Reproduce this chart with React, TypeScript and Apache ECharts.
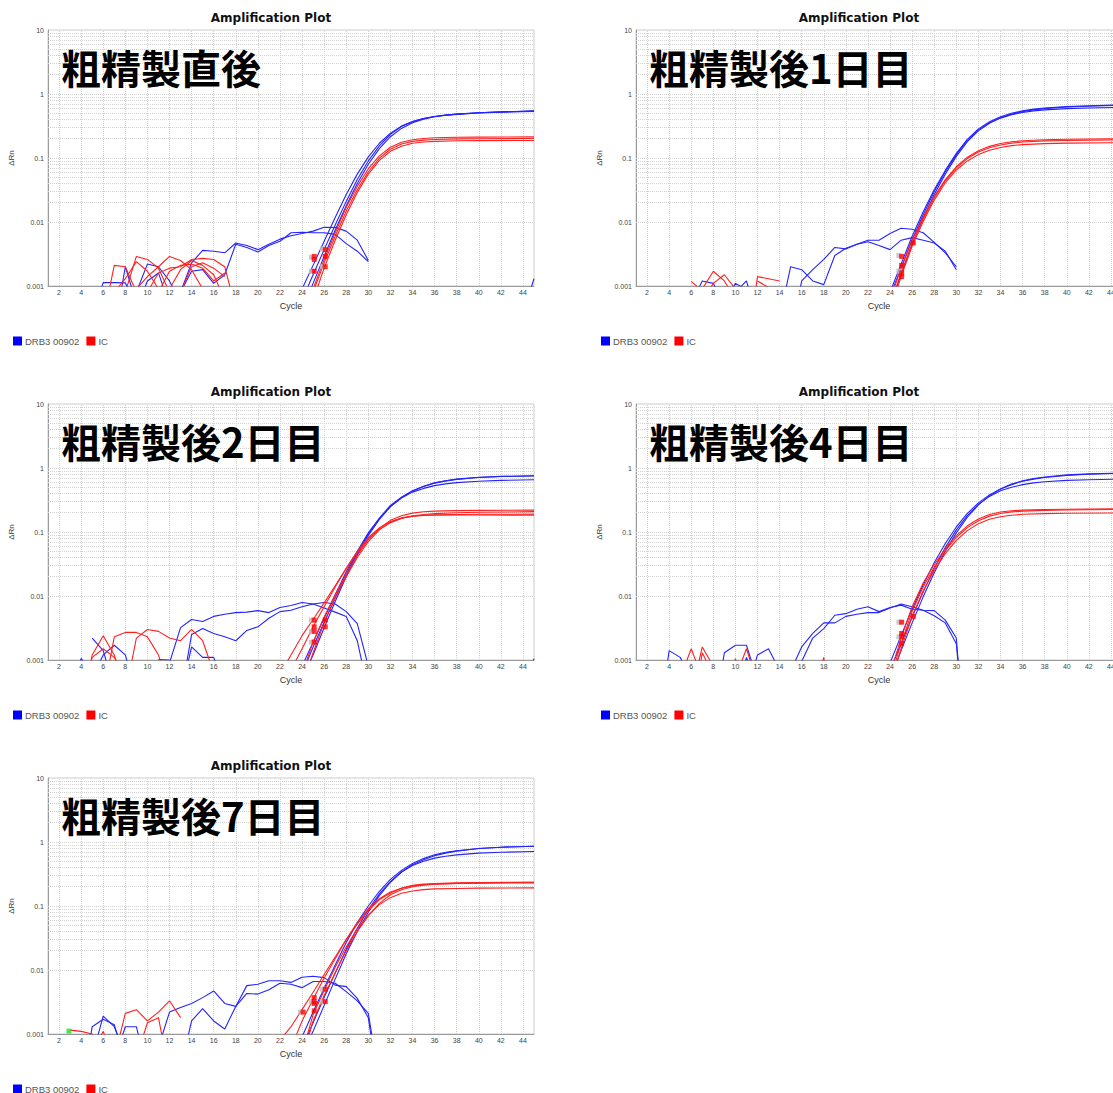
import React, { useEffect, useRef } from "react";
import * as echarts from "echarts";

type Pt = [number, number];

// ---------- shared tick labels ----------
const X_TICKS = [2, 4, 6, 8, 10, 12, 14, 16, 18, 20, 22, 24, 26, 28, 30, 32, 34, 36, 38, 40, 42, 44];
const Y_TICK_LABELS = ["0.001", "0.01", "0.1", "1", "10"];
const DECADES = [0.001, 0.01, 0.1, 1];
const MINOR_MULTS = [1, 2, 3, 4, 5, 6, 7, 8, 9];
const LEGEND_NAMES = ["DRB3 00902", "IC"];
const TITLE = "Amplification Plot";

// ---------- Panel 1: 粗精製直後 ----------
const P1_LABEL = "粗精製直後";
const P1_BLUE_AMP: Pt[][] = [
  [[23, 0.0004], [24, 0.0009], [25, 0.0021], [26, 0.005], [27, 0.0118], [28, 0.027], [29, 0.056], [30, 0.104], [31, 0.17], [32, 0.245], [33, 0.315], [34, 0.372], [35, 0.415], [36, 0.445], [37, 0.468], [38, 0.485], [40, 0.508], [42, 0.525], [45, 0.545]],
  [[24, 0.0006], [25, 0.0015], [26, 0.0037], [27, 0.009], [28, 0.021], [29, 0.046], [30, 0.09], [31, 0.155], [32, 0.235], [33, 0.31], [34, 0.37], [35, 0.415], [36, 0.445], [37, 0.468], [38, 0.485], [40, 0.51], [42, 0.525], [45, 0.54]],
  [[24, 0.0004], [25, 0.0011], [26, 0.0029], [27, 0.0075], [28, 0.018], [29, 0.04], [30, 0.08], [31, 0.14], [32, 0.215], [33, 0.29], [34, 0.355], [35, 0.405], [36, 0.44], [37, 0.465], [38, 0.48], [40, 0.505], [42, 0.52], [45, 0.535]],
];
const P1_RED_AMP: Pt[][] = [
  [[24, 0.0003], [25, 0.0009], [26, 0.0026], [27, 0.0068], [28, 0.017], [29, 0.036], [30, 0.068], [31, 0.108], [32, 0.147], [33, 0.176], [34, 0.193], [35, 0.202], [36, 0.207], [38, 0.211], [40, 0.212], [45, 0.214]],
  [[24, 0.0003], [25, 0.0008], [26, 0.0023], [27, 0.006], [28, 0.0148], [29, 0.032], [30, 0.061], [31, 0.099], [32, 0.137], [33, 0.165], [34, 0.182], [35, 0.19], [36, 0.195], [38, 0.199], [40, 0.2], [45, 0.202]],
  [[25, 0.0006], [26, 0.0019], [27, 0.0052], [28, 0.013], [29, 0.029], [30, 0.056], [31, 0.092], [32, 0.127], [33, 0.153], [34, 0.17], [35, 0.178], [36, 0.182], [38, 0.186], [40, 0.187], [45, 0.188]],
];
const P1_BLUE_NOISE: Pt[][] = [
  [[5.7, 0.0008], [6, 0.00113], [7, 0.00113], [8, 0.00112], [8.4, 0.0008]],
  [[7.6, 0.0008], [8, 0.002], [8.7, 0.0008]],
  [[9, 0.0008], [10, 0.0022], [11, 0.002], [12, 0.0012], [12.5, 0.0008]],
  [[9.6, 0.0008], [10, 0.0012], [11, 0.0016], [11.6, 0.0008]],
  [[13, 0.0008], [14, 0.0023], [15, 0.0036], [16, 0.0035], [17, 0.0033], [18, 0.0047], [19, 0.0043], [20, 0.0037], [21, 0.0045], [22, 0.0054], [23, 0.0061], [24, 0.0066], [25, 0.0072], [26, 0.0083], [27, 0.0082], [28, 0.0072], [29, 0.0052], [30, 0.0025]],
  [[13, 0.0008], [14, 0.0017], [15, 0.0018], [16, 0.0011], [17, 0.0015], [18, 0.0045], [19, 0.004], [20, 0.0034], [21, 0.0043], [22, 0.005], [23, 0.0068], [24, 0.0069], [25, 0.0068], [26, 0.0068], [27, 0.0064], [28, 0.0046], [29, 0.0035], [30, 0.0024]],
  [[44.6, 0.0008], [45, 0.0013]],
];
const P1_RED_NOISE: Pt[][] = [
  [[6.5, 0.0008], [7, 0.0021], [8, 0.002], [9, 0.0008]],
  [[7, 0.0008], [8, 0.0013], [9, 0.0024], [10, 0.0017], [11, 0.0009]],
  [[8, 0.0008], [9, 0.0029], [10, 0.0026], [11, 0.0019], [12, 0.0008]],
  [[9, 0.0009], [10, 0.0014], [11, 0.002], [12, 0.0029], [13, 0.0025], [14, 0.0018], [15, 0.0009]],
  [[10, 0.0008], [11, 0.0016], [12, 0.0019], [13, 0.002], [14, 0.0026], [15, 0.0027], [16, 0.0026], [17, 0.002], [17.6, 0.0008]],
  [[11, 0.0008], [12, 0.0017], [13, 0.0021], [14, 0.0022], [15, 0.0019], [16, 0.0012], [17, 0.0016]],
  [[12, 0.0009], [13, 0.0018], [14, 0.0025], [15, 0.0021], [16, 0.0015], [16.7, 0.0008]],
  [[13, 0.0008], [14, 0.002], [15, 0.0023], [16, 0.0019], [17, 0.0014]],
];
const P1_MARKS: Pt[] = [[25.1, 0.0029], [25.1, 0.0026], [25.1, 0.0017], [26.1, 0.0037], [26.1, 0.0029], [26.1, 0.002]];
const P1_GRAY: Pt[] = [[24.85, 0.0028], [24.85, 0.0017], [25.85, 0.0038], [25.85, 0.002]];

// ---------- Panel 2: 粗精製後1日目 ----------
const P2_LABEL = "粗精製後1日目";
const P2_BLUE_AMP: Pt[][] = [
  [[23, 0.0003], [24, 0.0008], [25, 0.0022], [26, 0.006], [27, 0.0145], [28, 0.032], [29, 0.064], [30, 0.118], [31, 0.195], [32, 0.285], [33, 0.37], [34, 0.44], [35, 0.5], [36, 0.545], [37, 0.58], [38, 0.605], [40, 0.635], [42, 0.655], [45, 0.675]],
  [[24, 0.0007], [25, 0.0019], [26, 0.0053], [27, 0.013], [28, 0.03], [29, 0.061], [30, 0.113], [31, 0.19], [32, 0.275], [33, 0.355], [34, 0.42], [35, 0.475], [36, 0.515], [37, 0.545], [38, 0.565], [40, 0.59], [42, 0.605], [45, 0.62]],
  [[24, 0.0005], [25, 0.0015], [26, 0.0045], [27, 0.0115], [28, 0.027], [29, 0.056], [30, 0.106], [31, 0.18], [32, 0.265], [33, 0.35], [34, 0.425], [35, 0.485], [36, 0.53], [37, 0.565], [38, 0.59], [40, 0.625], [42, 0.645], [45, 0.665]],
];
const P2_RED_AMP: Pt[][] = [
  [[24, 0.0006], [25, 0.0019], [26, 0.0052], [27, 0.012], [28, 0.025], [29, 0.046], [30, 0.073], [31, 0.103], [32, 0.13], [33, 0.152], [34, 0.168], [35, 0.179], [36, 0.186], [38, 0.193], [40, 0.196], [45, 0.2]],
  [[24, 0.0005], [25, 0.0016], [26, 0.0046], [27, 0.011], [28, 0.024], [29, 0.044], [30, 0.07], [31, 0.098], [32, 0.124], [33, 0.145], [34, 0.16], [35, 0.171], [36, 0.178], [38, 0.185], [40, 0.188], [45, 0.192]],
  [[24, 0.0004], [25, 0.0014], [26, 0.0042], [27, 0.0102], [28, 0.022], [29, 0.041], [30, 0.065], [31, 0.09], [32, 0.113], [33, 0.132], [34, 0.146], [35, 0.156], [36, 0.162], [38, 0.168], [40, 0.171], [45, 0.174]],
];
const P2_BLUE_NOISE: Pt[][] = [
  [[6.5, 0.0008], [7, 0.0012], [8, 0.0011], [8.4, 0.0008]],
  [[9.6, 0.0008], [10, 0.0011], [10.5, 0.00098], [11, 0.0012], [11.3, 0.0008]],
  [[14.5, 0.0008], [15, 0.002], [16, 0.0018], [17, 0.0012], [18, 0.00105], [19, 0.003], [20, 0.0039], [21, 0.0045], [22, 0.0049], [23, 0.0043], [24, 0.0037], [25, 0.0052], [26, 0.0057], [27, 0.0052], [28, 0.0047], [29, 0.0035], [30, 0.0018]],
  [[15.8, 0.0008], [16, 0.0012], [17, 0.0018], [18, 0.0026], [19, 0.004], [20, 0.0038], [21, 0.0045], [22, 0.0052], [23, 0.0052], [24, 0.0066], [25, 0.008], [26, 0.0077], [27, 0.0068], [28, 0.0048], [29, 0.0033], [30, 0.002]],
];
const P2_RED_NOISE: Pt[][] = [
  [[6, 0.00118], [6.8, 0.0009], [7, 0.0008]],
  [[7, 0.0009], [8, 0.0017], [9, 0.0012], [9.6, 0.0008]],
  [[7.5, 0.0008], [8, 0.0011], [9, 0.0015], [10, 0.0009]],
  [[11.8, 0.0008], [12, 0.0014], [13, 0.0013], [14, 0.0012]],
  [[12, 0.0012], [13, 0.00095]],
];
const P2_MARKS: Pt[] = [[25.05, 0.0029], [25.05, 0.0021], [25.05, 0.0016], [25.05, 0.0014], [26.1, 0.0047]];
const P2_GRAY: Pt[] = [[24.8, 0.003], [24.8, 0.0017]];

// ---------- Panel 3: 粗精製後2日目 ----------
const P3_LABEL = "粗精製後2日目";
const P3_BLUE_AMP: Pt[][] = [
  [[24, 0.0008], [25, 0.0019], [26, 0.0045], [27, 0.0105], [28, 0.024], [29, 0.05], [30, 0.097], [31, 0.165], [32, 0.26], [33, 0.35], [34, 0.44], [35, 0.52], [36, 0.585], [37, 0.63], [38, 0.665], [40, 0.71], [42, 0.735], [45, 0.75]],
  [[24, 0.0006], [25, 0.0016], [26, 0.0039], [27, 0.0094], [28, 0.022], [29, 0.047], [30, 0.092], [31, 0.16], [32, 0.25], [33, 0.34], [34, 0.42], [35, 0.48], [36, 0.53], [37, 0.565], [38, 0.59], [40, 0.62], [42, 0.64], [45, 0.655]],
  [[24, 0.0005], [25, 0.0012], [26, 0.0032], [27, 0.0082], [28, 0.02], [29, 0.044], [30, 0.088], [31, 0.157], [32, 0.25], [33, 0.345], [34, 0.435], [35, 0.515], [36, 0.58], [37, 0.63], [38, 0.67], [40, 0.715], [42, 0.74], [45, 0.755]],
];
const P3_RED_AMP: Pt[][] = [
  [[22, 0.0006], [23, 0.0012], [24, 0.0024], [25, 0.0043], [26, 0.0078], [27, 0.0145], [28, 0.027], [29, 0.048], [30, 0.078], [31, 0.11], [32, 0.14], [33, 0.163], [34, 0.178], [35, 0.188], [36, 0.194], [38, 0.2], [40, 0.203], [45, 0.208]],
  [[23, 0.0007], [24, 0.0015], [25, 0.0033], [26, 0.0068], [27, 0.0138], [28, 0.027], [29, 0.05], [30, 0.082], [31, 0.116], [32, 0.146], [33, 0.166], [34, 0.177], [35, 0.183], [36, 0.186], [38, 0.188], [40, 0.189], [45, 0.19]],
  [[24, 0.0006], [25, 0.0019], [26, 0.0047], [27, 0.0105], [28, 0.022], [29, 0.043], [30, 0.076], [31, 0.115], [32, 0.152], [33, 0.18], [34, 0.197], [35, 0.207], [36, 0.212], [38, 0.216], [40, 0.218], [45, 0.22]],
  [[24, 0.0004], [25, 0.0013], [26, 0.0038], [27, 0.0093], [28, 0.02], [29, 0.04], [30, 0.071], [31, 0.108], [32, 0.142], [33, 0.164], [34, 0.176], [35, 0.181], [36, 0.183], [38, 0.184], [40, 0.184], [45, 0.183]],
];
const P3_BLUE_NOISE: Pt[][] = [
  [[3.8, 0.0008], [4, 0.00106], [4.5, 0.0008]],
  [[5, 0.0022], [6, 0.0014], [6.4, 0.0008]],
  [[5.5, 0.0008], [6, 0.0012], [7, 0.0017], [8, 0.0012], [8.3, 0.0008]],
  [[11, 0.00102], [12, 0.001]],
  [[12, 0.0009], [13, 0.0032], [14, 0.0043], [15, 0.004], [16, 0.0048], [17, 0.0052], [18, 0.0055], [19, 0.0056], [20, 0.0059], [21, 0.0055], [22, 0.0066], [23, 0.0071], [24, 0.0079], [25, 0.0075], [26, 0.0079], [27, 0.0075], [28, 0.0057], [29, 0.0037], [30, 0.0008]],
  [[13.5, 0.0008], [14, 0.0025], [15, 0.0031], [16, 0.0026], [17, 0.0023], [18, 0.002], [19, 0.0029], [20, 0.0033], [21, 0.0045], [22, 0.0057], [23, 0.006], [24, 0.0068], [25, 0.0075], [26, 0.0065], [27, 0.0056], [28, 0.0048], [29, 0.002], [29.5, 0.0008]],
  [[13.6, 0.0008], [14, 0.0016], [15, 0.0011], [16, 0.0011], [16.3, 0.0008]],
  [[44.8, 0.0008], [45, 0.00105]],
];
const P3_RED_NOISE: Pt[][] = [
  [[4.8, 0.0008], [5, 0.0012], [6, 0.0024], [7, 0.0012], [7.3, 0.0008]],
  [[4.8, 0.0008], [5, 0.0011], [6, 0.0015], [7, 0.0011], [7.5, 0.0008]],
  [[6.5, 0.0008], [7, 0.0023], [8, 0.0027], [9, 0.0027], [10, 0.0023], [11, 0.0012], [11.3, 0.0008]],
  [[8.5, 0.0008], [9, 0.0022], [10, 0.003], [11, 0.0028], [12, 0.0022], [13, 0.002], [14, 0.003], [15, 0.002], [15.8, 0.0008]],
];
const P3_MARKS: Pt[] = [[25.1, 0.0042], [25.1, 0.0033], [25.1, 0.0028], [25.1, 0.0019], [26.1, 0.0042], [26.1, 0.0033]];
const P3_GRAY: Pt[] = [[24.85, 0.0042], [24.85, 0.0028], [24.85, 0.0019]];

// ---------- Panel 4: 粗精製後4日目 ----------
const P4_LABEL = "粗精製後4日目";
const P4_BLUE_AMP: Pt[][] = [
  [[23, 0.0003], [24, 0.0009], [25, 0.0024], [26, 0.0062], [27, 0.015], [28, 0.033], [29, 0.066], [30, 0.12], [31, 0.195], [32, 0.285], [33, 0.38], [34, 0.47], [35, 0.55], [36, 0.62], [37, 0.67], [38, 0.71], [40, 0.765], [42, 0.8], [45, 0.83]],
  [[24, 0.0007], [25, 0.0018], [26, 0.0047], [27, 0.0115], [28, 0.027], [29, 0.057], [30, 0.108], [31, 0.18], [32, 0.27], [33, 0.36], [34, 0.44], [35, 0.5], [36, 0.55], [37, 0.585], [38, 0.61], [40, 0.64], [42, 0.655], [45, 0.67]],
  [[24, 0.0005], [25, 0.0014], [26, 0.0038], [27, 0.0097], [28, 0.023], [29, 0.05], [30, 0.097], [31, 0.17], [32, 0.265], [33, 0.37], [34, 0.47], [35, 0.56], [36, 0.63], [37, 0.685], [38, 0.725], [40, 0.78], [42, 0.81], [45, 0.835]],
];
const P4_RED_AMP: Pt[][] = [
  [[24, 0.0006], [25, 0.0022], [26, 0.0068], [27, 0.016], [28, 0.031], [29, 0.055], [30, 0.088], [31, 0.125], [32, 0.16], [33, 0.188], [34, 0.205], [35, 0.215], [36, 0.22], [38, 0.225], [40, 0.227], [45, 0.23]],
  [[24, 0.0005], [25, 0.0018], [26, 0.0057], [27, 0.0138], [28, 0.028], [29, 0.051], [30, 0.082], [31, 0.117], [32, 0.15], [33, 0.177], [34, 0.195], [35, 0.206], [36, 0.212], [38, 0.218], [40, 0.221], [45, 0.225]],
  [[24, 0.0004], [25, 0.0015], [26, 0.0048], [27, 0.012], [28, 0.025], [29, 0.046], [30, 0.074], [31, 0.105], [32, 0.135], [33, 0.158], [34, 0.173], [35, 0.183], [36, 0.189], [38, 0.194], [40, 0.196], [45, 0.198]],
];
const P4_BLUE_NOISE: Pt[][] = [
  [[3.8, 0.0008], [4, 0.0014], [5, 0.0011], [5.4, 0.0008]],
  [[8.8, 0.0008], [9, 0.0013], [10, 0.0017], [11, 0.0017], [11.6, 0.0008]],
  [[10.8, 0.0008], [11, 0.0011], [11.3, 0.0008]],
  [[11.7, 0.0008], [12, 0.0012], [13, 0.0015], [13.8, 0.0008]],
  [[15.2, 0.0008], [16, 0.0016], [17, 0.0026], [18, 0.0038], [19, 0.0038], [20, 0.0048], [21, 0.0052], [22, 0.0055], [23, 0.0055], [24, 0.0065], [25, 0.0075], [26, 0.0068], [27, 0.006], [28, 0.0049], [29, 0.0038], [30, 0.0018], [30.2, 0.0008]],
  [[15.8, 0.0008], [17, 0.0022], [18, 0.0031], [19, 0.005], [20, 0.0053], [21, 0.0062], [22, 0.0068], [23, 0.0057], [24, 0.0066], [25, 0.0072], [26, 0.0062], [27, 0.006], [28, 0.0059], [29, 0.0042], [30, 0.0022], [30.2, 0.0008]],
];
const P4_RED_NOISE: Pt[][] = [
  [[5.4, 0.0008], [6, 0.0015], [6.6, 0.0008]],
  [[6.6, 0.0008], [7, 0.0016], [8, 0.0008]],
  [[6.8, 0.0008], [7, 0.0013], [7.6, 0.0008]],
  [[9.9, 0.0008], [10, 0.00105], [10.2, 0.0008]],
  [[10.4, 0.0008], [11, 0.0015], [11.5, 0.0008]],
  [[17.8, 0.0008], [18, 0.0011], [18.1, 0.0008]],
];
const P4_MARKS: Pt[] = [[25.05, 0.0039], [25.05, 0.0026], [25.05, 0.0023], [25.05, 0.0018], [26.1, 0.0048]];
const P4_GRAY: Pt[] = [[24.8, 0.0039], [24.8, 0.0023]];

// ---------- Panel 5: 粗精製後7日目 ----------
const P5_LABEL = "粗精製後7日目";
const P5_BLUE_AMP: Pt[][] = [
  [[24, 0.0009], [25, 0.0022], [26, 0.0052], [27, 0.012], [28, 0.027], [29, 0.055], [30, 0.1], [31, 0.17], [32, 0.26], [33, 0.36], [34, 0.46], [35, 0.55], [36, 0.63], [37, 0.69], [38, 0.73], [40, 0.79], [42, 0.83], [45, 0.86]],
  [[24, 0.0006], [25, 0.0015], [26, 0.0037], [27, 0.009], [28, 0.021], [29, 0.045], [30, 0.088], [31, 0.155], [32, 0.24], [33, 0.34], [34, 0.43], [35, 0.5], [36, 0.56], [37, 0.6], [38, 0.63], [40, 0.67], [42, 0.69], [45, 0.71]],
  [[24, 0.0005], [25, 0.0011], [26, 0.0028], [27, 0.0072], [28, 0.018], [29, 0.04], [30, 0.08], [31, 0.145], [32, 0.235], [33, 0.34], [34, 0.44], [35, 0.53], [36, 0.61], [37, 0.67], [38, 0.72], [40, 0.79], [42, 0.83], [45, 0.86]],
];
const P5_RED_AMP: Pt[][] = [
  [[22, 0.0008], [23, 0.0013], [24, 0.0024], [25, 0.0045], [26, 0.0085], [27, 0.016], [28, 0.03], [29, 0.052], [30, 0.085], [31, 0.125], [32, 0.16], [33, 0.19], [34, 0.21], [35, 0.22], [36, 0.225], [38, 0.23], [40, 0.232], [45, 0.235]],
  [[23, 0.0006], [24, 0.0016], [25, 0.0035], [26, 0.0075], [27, 0.015], [28, 0.03], [29, 0.055], [30, 0.09], [31, 0.13], [32, 0.165], [33, 0.19], [34, 0.205], [35, 0.215], [36, 0.22], [38, 0.225], [40, 0.228], [45, 0.23]],
  [[24, 0.0005], [25, 0.002], [26, 0.0048], [27, 0.011], [28, 0.023], [29, 0.044], [30, 0.072], [31, 0.105], [32, 0.135], [33, 0.158], [34, 0.172], [35, 0.18], [36, 0.185], [38, 0.188], [40, 0.19], [45, 0.192]],
  [[24, 0.0004], [25, 0.0016], [26, 0.004], [27, 0.009], [28, 0.02], [29, 0.04], [30, 0.07], [31, 0.11], [32, 0.15], [33, 0.18], [34, 0.2], [35, 0.212], [36, 0.22], [38, 0.226], [40, 0.23], [45, 0.235]],
];
const P5_BLUE_NOISE: Pt[][] = [
  [[4.8, 0.0008], [5, 0.0013], [6, 0.0017], [7, 0.0014], [7.4, 0.0008]],
  [[5.4, 0.0008], [6, 0.0019], [7, 0.0013], [7.5, 0.0008]],
  [[7.6, 0.0008], [8, 0.0013], [9, 0.0013], [9.3, 0.0008]],
  [[11.2, 0.0008], [12, 0.0022], [13, 0.0026], [14, 0.003], [15, 0.0037], [16, 0.0047], [17, 0.003], [18, 0.0027], [19, 0.0057], [20, 0.006], [21, 0.0068], [22, 0.0068], [23, 0.0064], [24, 0.0077], [25, 0.008], [26, 0.0076], [27, 0.0058], [28, 0.0055], [29, 0.0036], [30, 0.0018], [30.3, 0.0008]],
  [[13.6, 0.0008], [14, 0.0016], [15, 0.0025], [16, 0.0016], [17, 0.0012], [18, 0.0027], [19, 0.0043], [20, 0.0042], [21, 0.0049], [22, 0.0062], [23, 0.006], [24, 0.0053], [25, 0.0066], [26, 0.0066], [27, 0.0062], [28, 0.0046], [29, 0.0033], [30, 0.0021], [30.4, 0.0008]],
];
const P5_RED_NOISE: Pt[][] = [
  [[3, 0.00115], [4, 0.0011], [5, 0.001], [5.3, 0.0008]],
  [[5.6, 0.0008], [6, 0.0011], [6.3, 0.0008]],
  [[7.4, 0.0008], [8, 0.0021], [9, 0.0024], [10, 0.0016], [11, 0.0022], [12, 0.0033], [13, 0.0018]],
  [[9.5, 0.0008], [10, 0.0015], [11, 0.0018], [11.4, 0.0008]],
];
const P5_MARKS: Pt[] = [[24.1, 0.0022], [25.1, 0.0037], [25.1, 0.0032], [25.1, 0.003], [25.1, 0.0023], [26.1, 0.005], [26.1, 0.0032]];
const P5_GRAY: Pt[] = [[23.85, 0.0022], [24.85, 0.0032], [25.85, 0.005], [25.85, 0.0032]];
const P5_GREEN: Pt[] = [[2.9, 0.00111]];

type PanelData = {
  label: string;
  blueAmp: Pt[][];
  redAmp: Pt[][];
  blueNoise: Pt[][];
  redNoise: Pt[][];
  marks: Pt[];
  gray: Pt[];
  green?: Pt[];
};

const PANELS: PanelData[] = [
  { label: P1_LABEL, blueAmp: P1_BLUE_AMP, redAmp: P1_RED_AMP, blueNoise: P1_BLUE_NOISE, redNoise: P1_RED_NOISE, marks: P1_MARKS, gray: P1_GRAY },
  { label: P2_LABEL, blueAmp: P2_BLUE_AMP, redAmp: P2_RED_AMP, blueNoise: P2_BLUE_NOISE, redNoise: P2_RED_NOISE, marks: P2_MARKS, gray: P2_GRAY },
  { label: P3_LABEL, blueAmp: P3_BLUE_AMP, redAmp: P3_RED_AMP, blueNoise: P3_BLUE_NOISE, redNoise: P3_RED_NOISE, marks: P3_MARKS, gray: P3_GRAY },
  { label: P4_LABEL, blueAmp: P4_BLUE_AMP, redAmp: P4_RED_AMP, blueNoise: P4_BLUE_NOISE, redNoise: P4_RED_NOISE, marks: P4_MARKS, gray: P4_GRAY },
  { label: P5_LABEL, blueAmp: P5_BLUE_AMP, redAmp: P5_RED_AMP, blueNoise: P5_BLUE_NOISE, redNoise: P5_RED_NOISE, marks: P5_MARKS, gray: P5_GRAY, green: P5_GREEN },
];

const PANEL_W = 588;
const PANEL_H = 374;
const PANEL_POS: [number, number][] = [[0, 0], [588, 0], [0, 374], [588, 374], [0, 748]];

const BLUE = "#2424ff";
const RED = "#ff2020";

function lineSeries(name: string, color: string, curves: Pt[][]) {
  return curves.map((c) => ({
    type: "line",
    name,
    data: c,
    symbol: "none",
    showSymbol: false,
    clip: true,
    silent: true,
    animation: false,
    lineStyle: { width: 1.1, color },
    itemStyle: { color },
    emphasis: { disabled: true },
    z: 3,
  }));
}

function buildOption(p: PanelData) {
  const yLines: number[] = [];
  DECADES.forEach((d) => MINOR_MULTS.forEach((m) => {
    const v = +(d * m).toPrecision(3);
    if (v > 0.001) yLines.push(v);
  }));
  const gridSeries = {
    type: "line",
    name: "grid",
    data: [[1, 0.001]],
    symbol: "none",
    silent: true,
    lineStyle: { opacity: 0 },
    z: 1,
    markLine: {
      silent: true,
      animation: false,
      symbol: ["none", "none"],
      label: { show: false },
      lineStyle: { type: "dotted", color: "#d2d2d2", width: 1 },
      emphasis: { disabled: true },
      z: 1,
      data: [
        ...X_TICKS.map((v) => ({ xAxis: v })),
        ...yLines.map((v) => ({ yAxis: v })),
      ],
    },
  };

  const scatter = (data: Pt[], color: string, z: number, name: string) => ({
    type: "scatter",
    name,
    data,
    symbol: "rect",
    symbolSize: 5,
    silent: true,
    itemStyle: { color },
    z,
  });

  const series: any[] = [
    gridSeries,
    ...lineSeries("DRB3 00902", BLUE, p.blueNoise),
    ...lineSeries("IC", RED, p.redNoise),
    ...lineSeries("DRB3 00902", BLUE, p.blueAmp),
    ...lineSeries("IC", RED, p.redAmp),
    scatter(p.gray, "#bdbdbd", 4, "ctGray"),
    scatter(p.marks, "#ff0000", 5, "ct"),
  ];
  if (p.green) series.push(scatter(p.green, "#22dd22", 5, "start"));

  return {
    animation: false,
    backgroundColor: "#ffffff",
    grid: {
      left: 48,
      top: 30,
      width: 486,
      height: 256,
      show: true,
      borderColor: "#cccccc",
      borderWidth: 1,
      outerBoundsMode: "none",
      containLabel: false,
    },
    xAxis: {
      type: "value",
      min: 1,
      max: 45,
      interval: 1,
      axisLine: { show: true, lineStyle: { color: "#9a9a9a" } },
      axisTick: { show: false },
      splitLine: { show: false },
      axisLabel: {
        fontSize: 7,
        color: "#444",
        margin: 3,
        fontFamily: "Liberation Sans",
        formatter: (v: number) => (X_TICKS.indexOf(v) >= 0 ? String(v) : ""),
      },
      name: "Cycle",
      nameLocation: "middle",
      nameGap: 15,
      nameTextStyle: { fontSize: 9, color: "#333", fontFamily: "Liberation Sans" },
    },
    yAxis: {
      type: "log",
      logBase: 10,
      min: 0.001,
      max: 10,
      axisLine: { show: true, lineStyle: { color: "#9a9a9a" } },
      axisTick: { show: false },
      splitLine: { show: false },
      axisLabel: {
        fontSize: 7,
        color: "#444",
        margin: 4,
        fontFamily: "Liberation Sans",
        formatter: (v: number) => {
          const i = Math.round(Math.log10(v)) + 3;
          return Y_TICK_LABELS[i] ?? "";
        },
      },
      name: "ΔRn",
      nameLocation: "middle",
      nameGap: 25,
      nameRotate: 90,
      nameTextStyle: { fontSize: 8, color: "#333", fontFamily: "Liberation Sans" },
    },
    legend: {
      left: 8,
      top: 331,
      itemWidth: 9,
      itemHeight: 9,
      itemGap: 7,
      icon: "rect",
      selectedMode: false,
      textStyle: { fontSize: 9.5, color: "#555", fontFamily: "Liberation Sans", padding: [0, 0, 0, -2] },
      data: [
        { name: LEGEND_NAMES[0], itemStyle: { color: "#0000ff" } },
        { name: LEGEND_NAMES[1], itemStyle: { color: "#ff0000" } },
      ],
    },
    graphic: [
      {
        type: "text",
        x: 271,
        y: 18,
        z: 10,
        silent: true,
        style: {
          text: TITLE,
          fontSize: 12,
          fontWeight: "bold",
          fontFamily: "DejaVu Sans",
          fill: "#111",
          textAlign: "center",
          textVerticalAlign: "middle",
        },
      },
      {
        type: "text",
        x: 61,
        y: 67,
        z: 10,
        silent: true,
        style: {
          text: p.label,
          fontSize: 40,
          fontWeight: "bold",
          fontFamily: "Noto Sans CJK JP",
          fill: "#000",
          textAlign: "left",
          textVerticalAlign: "middle",
        },
      },
    ],
    series,
  };
}

function Panel({ data, x, y }: { data: PanelData; x: number; y: number }) {
  const ref = useRef<HTMLDivElement>(null);
  useEffect(() => {
    if (!ref.current) return;
    const chart = echarts.init(ref.current, null, { renderer: "svg" });
    chart.setOption(buildOption(data) as any);
    return () => chart.dispose();
  }, [data]);
  return (
    <div
      ref={ref}
      style={{ position: "absolute", left: x, top: y, width: PANEL_W, height: PANEL_H }}
    />
  );
}

export default function App() {
  return (
    <div
      style={{
        position: "absolute",
        left: 0,
        top: 0,
        width: 1113,
        height: 1093,
        overflow: "hidden",
        background: "#ffffff",
      }}
    >
      {PANELS.map((p, i) => (
        <Panel key={i} data={p} x={PANEL_POS[i][0]} y={PANEL_POS[i][1]} />
      ))}
    </div>
  );
}
